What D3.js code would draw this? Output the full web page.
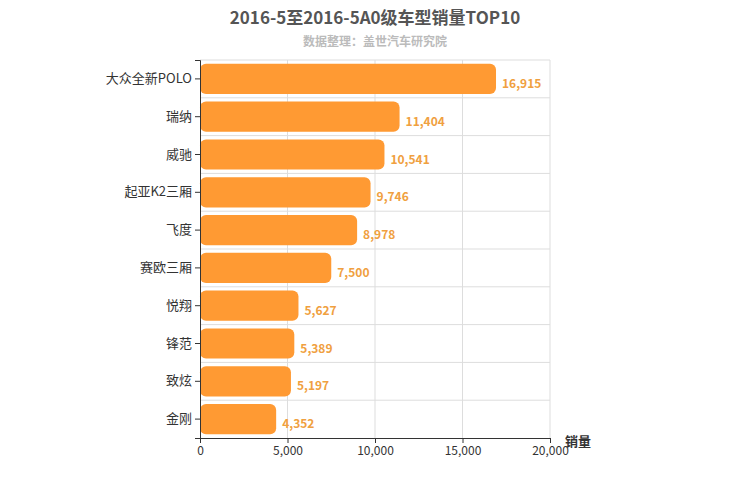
<!DOCTYPE html>
<html><head><meta charset="utf-8">
<script src="https://cdn.jsdelivr.net/npm/d3@7"></script>
<style>body{margin:0;background:#fff}text{font-family:"Noto Sans CJK SC","Noto Sans",sans-serif}</style>
</head><body><svg id="c" width="750" height="500"></svg>
<script>
const categories=["大众全新POLO","瑞纳","威驰","起亚K2三厢","飞度","赛欧三厢","悦翔","锋范","致炫","金刚"];
const values=[16915,11404,10541,9746,8978,7500,5627,5389,5197,4352];
const xTicks=[0,5000,10000,15000,20000];
const svg=d3.select("#c");
const L=200,R=550,T=60,B=438;
const x=d3.scaleLinear().domain([0,20000]).range([L,R]);
const y=d3.scaleBand().domain(categories).range([T,B]).paddingInner(0.2).paddingOuter(0.1);
const yb=d3.scaleBand().domain(categories).range([T,B]);
// grid
svg.selectAll(".vg").data(xTicks.slice(1)).enter().append("line").attr("x1",d=>x(d)).attr("x2",d=>x(d)).attr("y1",T).attr("y2",B).attr("stroke","#ddd");
svg.selectAll(".hg").data(categories).enter().append("line").attr("x1",L).attr("x2",R).attr("y1",d=>yb(d)).attr("y2",d=>yb(d)).attr("stroke","#ddd");
// bars
svg.selectAll(".bar").data(values).enter().append("rect").attr("x",L).attr("y",(d,i)=>y(categories[i])).attr("width",d=>x(d)-L).attr("height",y.bandwidth()).attr("rx",6).attr("fill","#ff9a33");
svg.selectAll(".lbl").data(values).enter().append("text").attr("x",d=>x(d)+6).attr("y",(d,i)=>y(categories[i])+y.bandwidth()/2+9).attr("font-size",12).attr("font-weight","bold").attr("fill","#f0a040").text(d=>d3.format(",")(d));
// axes
const ax=svg.append("g").attr("transform",`translate(0,${B})`).call(d3.axisBottom(x).tickValues(xTicks).tickFormat(d3.format(",")).tickSize(5));
ax.selectAll("text").attr("font-size",12).attr("fill","#333");
ax.selectAll("line,path").attr("stroke","#333");
const ay=svg.append("g").attr("transform",`translate(${L},0)`).call(d3.axisLeft(yb).tickSize(5));
ay.selectAll("text").attr("font-size",13).attr("fill","#333");
ay.selectAll("line,path").attr("stroke","#333");
svg.append("text").attr("x",565).attr("y",446).attr("font-size",13).attr("font-weight","bold").attr("fill","#333").text("销量");
svg.append("text").attr("x",375).attr("y",24).attr("text-anchor","middle").attr("font-size",17).attr("font-weight","bold").attr("fill","#555").text("2016-5至2016-5A0级车型销量TOP10");
svg.append("text").attr("x",375).attr("y",46).attr("text-anchor","middle").attr("font-size",12).attr("font-weight","bold").attr("fill","#bbb").text("数据整理：盖世汽车研究院");
</script></body></html>
